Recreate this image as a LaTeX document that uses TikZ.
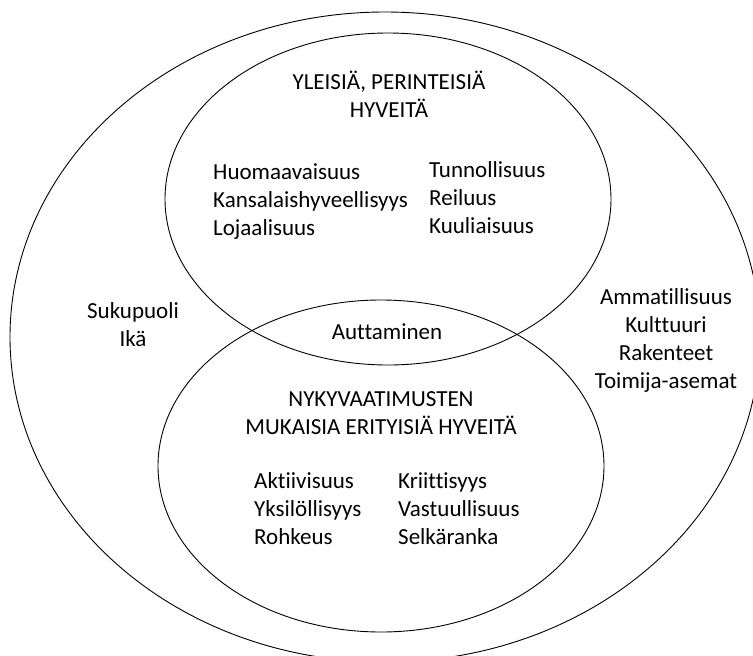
\documentclass[tikz,border=0pt]{standalone}
\usepackage{fontspec}
\setmainfont{Carlito}[Ligatures={NoCommon}]
\begin{document}
\begin{tikzpicture}[x=1pt,y=-1pt,
  ring/.style={draw=black,line width=0.9pt},
  txt/.style={inner sep=0pt,font=\fontsize{23}{28}\selectfont},
  ctr/.style={txt,align=center,anchor=base},
  lft/.style={txt,align=left,anchor=base west}]
\useasboundingbox (0,0) rectangle (753,656);
\clip (0,0) rectangle (753,656);
% ellipses (the outer one runs off the right and bottom edges)
\draw[ring] (385,337) ellipse [x radius=375, y radius=325];
\draw[ring] (388,199) ellipse [x radius=223, y radius=166];
\draw[ring] (381,466) ellipse [x radius=223, y radius=166];
% texts (anchor = baseline of the last line)
\node[ctr] (yleiset) at (389,117) {YLEISIÄ, PERINTEISIÄ\\HYVEITÄ};
\node[lft] (yl) at (213,235) {Huomaavaisuus\\Kansalaishyveellisyys\\Lojaalisuus};
\node[lft] (yr) at (429,233) {Tunnollisuus\\Reiluus\\Kuuliaisuus};
\node[ctr] (autt) at (387,339) {Auttaminen};
\node[ctr] (nyky) at (381,434) {NYKYVAATIMUSTEN\\MUKAISIA ERITYISIÄ HYVEITÄ};
\node[lft] (nl) at (254,544) {Aktiivisuus\\Yksilöllisyys\\Rohkeus};
\node[lft] (nr) at (398,544) {Kriittisyys\\Vastuullisuus\\Selkäranka};
\node[ctr] (suku) at (133,346) {Sukupuoli\\Ikä};
\node[ctr] (amm) at (666,388) {Ammatillisuus\\Kulttuuri\\Rakenteet\\Toimija-asemat};
\end{tikzpicture}
\end{document}
